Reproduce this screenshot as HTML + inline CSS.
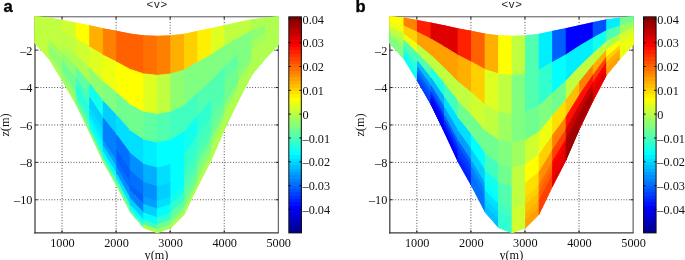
<!DOCTYPE html>
<html><head><meta charset="utf-8"><title>v</title>
<style>
html,body{margin:0;padding:0;background:#fff;}
body{width:685px;height:260px;overflow:hidden;}
svg{display:block;}
.tk{font-family:"Liberation Serif",serif;font-size:13px;fill:#111;}
.tt{font-family:"Liberation Sans",sans-serif;font-size:11.4px;fill:#222;letter-spacing:0.75px;}
.lt{font-family:"Liberation Sans",sans-serif;font-size:16.5px;font-weight:bold;fill:#000;stroke:#000;stroke-width:0.35px;}
</style></head><body>
<svg width="685" height="260" viewBox="0 0 685 260">
<rect width="685" height="260" fill="#fff"/>
<g stroke="#2a2a2a" stroke-width="0.9" stroke-dasharray="0.9 1.85" fill="none"><line x1="62.03" y1="16.60" x2="62.03" y2="232.90"/><line x1="116.10" y1="16.60" x2="116.10" y2="232.90"/><line x1="170.17" y1="16.60" x2="170.17" y2="232.90"/><line x1="224.24" y1="16.60" x2="224.24" y2="232.90"/><line x1="35.00" y1="50.16" x2="278.31" y2="50.16"/><line x1="35.00" y1="87.56" x2="278.31" y2="87.56"/><line x1="35.00" y1="124.96" x2="278.31" y2="124.96"/><line x1="35.00" y1="162.36" x2="278.31" y2="162.36"/><line x1="35.00" y1="199.76" x2="278.31" y2="199.76"/></g>
<g stroke="#1a1a1a" stroke-width="1"><line x1="62.03" y1="16.60" x2="62.03" y2="19.20"/><line x1="62.03" y1="232.90" x2="62.03" y2="230.30"/><line x1="116.10" y1="16.60" x2="116.10" y2="19.20"/><line x1="116.10" y1="232.90" x2="116.10" y2="230.30"/><line x1="170.17" y1="16.60" x2="170.17" y2="19.20"/><line x1="170.17" y1="232.90" x2="170.17" y2="230.30"/><line x1="224.24" y1="16.60" x2="224.24" y2="19.20"/><line x1="224.24" y1="232.90" x2="224.24" y2="230.30"/><line x1="35.00" y1="50.16" x2="37.60" y2="50.16"/><line x1="278.31" y1="50.16" x2="275.71" y2="50.16"/><line x1="35.00" y1="87.56" x2="37.60" y2="87.56"/><line x1="278.31" y1="87.56" x2="275.71" y2="87.56"/><line x1="35.00" y1="124.96" x2="37.60" y2="124.96"/><line x1="278.31" y1="124.96" x2="275.71" y2="124.96"/><line x1="35.00" y1="162.36" x2="37.60" y2="162.36"/><line x1="278.31" y1="162.36" x2="275.71" y2="162.36"/><line x1="35.00" y1="199.76" x2="37.60" y2="199.76"/><line x1="278.31" y1="199.76" x2="275.71" y2="199.76"/></g>
<line x1="35.00" y1="16.20" x2="35.00" y2="233.50" stroke="#444" stroke-width="1.3"/>
<line x1="34.20" y1="232.90" x2="278.81" y2="232.90" stroke="#3a3a3a" stroke-width="1.1"/>
<line x1="35.00" y1="16.80" x2="278.81" y2="16.80" stroke="#555" stroke-width="1"/>
<line x1="278.31" y1="16.60" x2="278.31" y2="232.90" stroke="#444" stroke-width="1"/>
<clipPath id="ca"><polygon points="34.40,15.91 49.22,17.62 62.73,19.94 76.25,22.41 89.77,25.30 103.28,28.36 116.80,30.85 130.32,33.57 143.84,35.16 157.35,35.69 170.87,35.16 184.39,33.76 197.90,30.85 211.42,28.12 224.94,24.88 238.45,21.96 251.97,19.26 265.49,17.56 279.01,16.07 279.01,44.55 265.49,58.95 251.97,75.22 238.45,101.21 224.94,129.26 211.42,160.49 197.90,186.67 184.39,214.72 170.87,228.18 157.35,233.23 143.84,228.18 130.32,212.85 116.80,186.67 103.28,162.73 89.77,133.38 76.25,105.51 62.73,81.76 49.22,59.51 34.40,43.05"/></clipPath>
<g clip-path="url(#ca)">
<polygon points="34.40,15.91 49.22,17.62 49.22,26.04 34.40,21.36" fill="#bfff40" stroke="#bfff40" stroke-width="1"/>
<polygon points="34.40,21.36 49.22,26.04 49.22,34.31 34.40,26.73" fill="#bfff40" stroke="#bfff40" stroke-width="1"/>
<polygon points="34.40,26.73 49.22,34.31 49.22,40.39 34.40,30.66" fill="#bfff40" stroke="#bfff40" stroke-width="1"/>
<polygon points="34.40,30.66 49.22,40.39 49.22,45.67 34.40,34.09" fill="#bfff40" stroke="#bfff40" stroke-width="1"/>
<polygon points="34.40,34.09 49.22,45.67 49.22,49.65 34.40,36.66" fill="#bfff40" stroke="#bfff40" stroke-width="1"/>
<polygon points="34.40,36.66 49.22,49.65 49.22,52.73 34.40,38.66" fill="#bfff40" stroke="#bfff40" stroke-width="1"/>
<polygon points="34.40,38.66 49.22,52.73 49.22,54.37 34.40,39.72" fill="#bfff40" stroke="#bfff40" stroke-width="1"/>
<polygon points="34.40,39.72 49.22,54.37 49.22,56.24 34.40,40.93" fill="#bfff40" stroke="#bfff40" stroke-width="1"/>
<polygon points="34.40,40.93 49.22,56.24 49.22,57.73 34.40,41.90" fill="#bfff40" stroke="#bfff40" stroke-width="1"/>
<polygon points="34.40,41.90 49.22,57.73 49.22,58.76 34.40,42.57" fill="#bfff40" stroke="#bfff40" stroke-width="1"/>
<polygon points="34.40,42.57 49.22,58.76 49.22,59.51 34.40,43.05" fill="#bfff40" stroke="#bfff40" stroke-width="1"/>
<polygon points="49.22,17.62 62.73,19.94 62.73,32.36 49.22,26.04" fill="#bfff40" stroke="#bfff40" stroke-width="1"/>
<polygon points="49.22,26.04 62.73,32.36 62.73,44.57 49.22,34.31" fill="#bfff40" stroke="#bfff40" stroke-width="1"/>
<polygon points="49.22,34.31 62.73,44.57 62.73,53.54 49.22,40.39" fill="#bfff40" stroke="#bfff40" stroke-width="1"/>
<polygon points="49.22,40.39 62.73,53.54 62.73,61.34 49.22,45.67" fill="#9fff60" stroke="#9fff60" stroke-width="1"/>
<polygon points="49.22,45.67 62.73,61.34 62.73,67.20 49.22,49.65" fill="#8fff70" stroke="#8fff70" stroke-width="1"/>
<polygon points="49.22,49.65 62.73,67.20 62.73,71.76 49.22,52.73" fill="#8fff70" stroke="#8fff70" stroke-width="1"/>
<polygon points="49.22,52.73 62.73,71.76 62.73,74.17 49.22,54.37" fill="#8fff70" stroke="#8fff70" stroke-width="1"/>
<polygon points="49.22,54.37 62.73,74.17 62.73,76.93 49.22,56.24" fill="#9fff60" stroke="#9fff60" stroke-width="1"/>
<polygon points="49.22,56.24 62.73,76.93 62.73,79.14 49.22,57.73" fill="#afff50" stroke="#afff50" stroke-width="1"/>
<polygon points="49.22,57.73 62.73,79.14 62.73,80.66 49.22,58.76" fill="#afff50" stroke="#afff50" stroke-width="1"/>
<polygon points="49.22,58.76 62.73,80.66 62.73,81.76 49.22,59.51" fill="#afff50" stroke="#afff50" stroke-width="1"/>
<polygon points="62.73,19.94 76.25,22.41 76.25,39.10 62.73,32.36" fill="#cfff30" stroke="#cfff30" stroke-width="1"/>
<polygon points="62.73,32.36 76.25,39.10 76.25,55.52 62.73,44.57" fill="#bfff40" stroke="#bfff40" stroke-width="1"/>
<polygon points="62.73,44.57 76.25,55.52 76.25,67.58 62.73,53.54" fill="#afff50" stroke="#afff50" stroke-width="1"/>
<polygon points="62.73,53.54 76.25,67.58 76.25,78.06 62.73,61.34" fill="#8fff70" stroke="#8fff70" stroke-width="1"/>
<polygon points="62.73,61.34 76.25,78.06 76.25,85.94 62.73,67.20" fill="#70ff8f" stroke="#70ff8f" stroke-width="1"/>
<polygon points="62.73,67.20 76.25,85.94 76.25,92.06 62.73,71.76" fill="#70ff8f" stroke="#70ff8f" stroke-width="1"/>
<polygon points="62.73,71.76 76.25,92.06 76.25,95.31 62.73,74.17" fill="#80ff80" stroke="#80ff80" stroke-width="1"/>
<polygon points="62.73,74.17 76.25,95.31 76.25,99.02 62.73,76.93" fill="#8fff70" stroke="#8fff70" stroke-width="1"/>
<polygon points="62.73,76.93 76.25,99.02 76.25,101.99 62.73,79.14" fill="#8fff70" stroke="#8fff70" stroke-width="1"/>
<polygon points="62.73,79.14 76.25,101.99 76.25,104.03 62.73,80.66" fill="#9fff60" stroke="#9fff60" stroke-width="1"/>
<polygon points="62.73,80.66 76.25,104.03 76.25,105.51 62.73,81.76" fill="#afff50" stroke="#afff50" stroke-width="1"/>
<polygon points="76.25,22.41 89.77,25.30 89.77,47.01 76.25,39.10" fill="#ffff00" stroke="#ffff00" stroke-width="1"/>
<polygon points="76.25,39.10 89.77,47.01 89.77,68.36 76.25,55.52" fill="#cfff30" stroke="#cfff30" stroke-width="1"/>
<polygon points="76.25,55.52 89.77,68.36 89.77,84.04 76.25,67.58" fill="#afff50" stroke="#afff50" stroke-width="1"/>
<polygon points="76.25,67.58 89.77,84.04 89.77,97.67 76.25,78.06" fill="#60ff9f" stroke="#60ff9f" stroke-width="1"/>
<polygon points="76.25,78.06 89.77,97.67 89.77,107.93 76.25,85.94" fill="#40ffbf" stroke="#40ffbf" stroke-width="1"/>
<polygon points="76.25,85.94 89.77,107.93 89.77,115.89 76.25,92.06" fill="#20ffdf" stroke="#20ffdf" stroke-width="1"/>
<polygon points="76.25,92.06 89.77,115.89 89.77,120.11 76.25,95.31" fill="#30ffcf" stroke="#30ffcf" stroke-width="1"/>
<polygon points="76.25,95.31 89.77,120.11 89.77,124.93 76.25,99.02" fill="#40ffbf" stroke="#40ffbf" stroke-width="1"/>
<polygon points="76.25,99.02 89.77,124.93 89.77,128.79 76.25,101.99" fill="#50ffaf" stroke="#50ffaf" stroke-width="1"/>
<polygon points="76.25,101.99 89.77,128.79 89.77,131.45 76.25,104.03" fill="#70ff8f" stroke="#70ff8f" stroke-width="1"/>
<polygon points="76.25,104.03 89.77,131.45 89.77,133.38 76.25,105.51" fill="#8fff70" stroke="#8fff70" stroke-width="1"/>
<polygon points="89.77,25.30 103.28,28.36 103.28,55.35 89.77,47.01" fill="#ffaf00" stroke="#ffaf00" stroke-width="1"/>
<polygon points="89.77,47.01 103.28,55.35 103.28,81.90 89.77,68.36" fill="#dfff20" stroke="#dfff20" stroke-width="1"/>
<polygon points="89.77,68.36 103.28,81.90 103.28,101.39 89.77,84.04" fill="#8fff70" stroke="#8fff70" stroke-width="1"/>
<polygon points="89.77,84.04 103.28,101.39 103.28,118.34 89.77,97.67" fill="#10ffef" stroke="#10ffef" stroke-width="1"/>
<polygon points="89.77,97.67 103.28,118.34 103.28,131.09 89.77,107.93" fill="#00cfff" stroke="#00cfff" stroke-width="1"/>
<polygon points="89.77,107.93 103.28,131.09 103.28,140.99 89.77,115.89" fill="#00dfff" stroke="#00dfff" stroke-width="1"/>
<polygon points="89.77,115.89 103.28,140.99 103.28,146.24 89.77,120.11" fill="#00efff" stroke="#00efff" stroke-width="1"/>
<polygon points="89.77,120.11 103.28,146.24 103.28,152.24 89.77,124.93" fill="#00ffff" stroke="#00ffff" stroke-width="1"/>
<polygon points="89.77,124.93 103.28,152.24 103.28,157.03 89.77,128.79" fill="#20ffdf" stroke="#20ffdf" stroke-width="1"/>
<polygon points="89.77,128.79 103.28,157.03 103.28,160.33 89.77,131.45" fill="#50ffaf" stroke="#50ffaf" stroke-width="1"/>
<polygon points="89.77,131.45 103.28,160.33 103.28,162.73 89.77,133.38" fill="#8fff70" stroke="#8fff70" stroke-width="1"/>
<polygon points="103.28,28.36 116.80,30.85 116.80,62.15 103.28,55.35" fill="#ff8000" stroke="#ff8000" stroke-width="1"/>
<polygon points="103.28,55.35 116.80,62.15 116.80,92.93 103.28,81.90" fill="#efff10" stroke="#efff10" stroke-width="1"/>
<polygon points="103.28,81.90 116.80,92.93 116.80,115.54 103.28,101.39" fill="#80ff80" stroke="#80ff80" stroke-width="1"/>
<polygon points="103.28,101.39 116.80,115.54 116.80,135.19 103.28,118.34" fill="#00cfff" stroke="#00cfff" stroke-width="1"/>
<polygon points="103.28,118.34 116.80,135.19 116.80,149.97 103.28,131.09" fill="#0080ff" stroke="#0080ff" stroke-width="1"/>
<polygon points="103.28,131.09 116.80,149.97 116.80,161.45 103.28,140.99" fill="#0080ff" stroke="#0080ff" stroke-width="1"/>
<polygon points="103.28,140.99 116.80,161.45 116.80,167.54 103.28,146.24" fill="#009fff" stroke="#009fff" stroke-width="1"/>
<polygon points="103.28,146.24 116.80,167.54 116.80,174.50 103.28,152.24" fill="#00cfff" stroke="#00cfff" stroke-width="1"/>
<polygon points="103.28,152.24 116.80,174.50 116.80,180.06 103.28,157.03" fill="#00ffff" stroke="#00ffff" stroke-width="1"/>
<polygon points="103.28,157.03 116.80,180.06 116.80,183.89 103.28,160.33" fill="#50ffaf" stroke="#50ffaf" stroke-width="1"/>
<polygon points="103.28,160.33 116.80,183.89 116.80,186.67 103.28,162.73" fill="#80ff80" stroke="#80ff80" stroke-width="1"/>
<polygon points="116.80,30.85 130.32,33.57 130.32,69.59 116.80,62.15" fill="#ff6000" stroke="#ff6000" stroke-width="1"/>
<polygon points="116.80,62.15 130.32,69.59 130.32,105.00 116.80,92.93" fill="#ffff00" stroke="#ffff00" stroke-width="1"/>
<polygon points="116.80,92.93 130.32,105.00 130.32,131.01 116.80,115.54" fill="#70ff8f" stroke="#70ff8f" stroke-width="1"/>
<polygon points="116.80,115.54 130.32,131.01 130.32,153.62 116.80,135.19" fill="#00dfff" stroke="#00dfff" stroke-width="1"/>
<polygon points="116.80,135.19 130.32,153.62 130.32,170.63 116.80,149.97" fill="#0070ff" stroke="#0070ff" stroke-width="1"/>
<polygon points="116.80,149.97 130.32,170.63 130.32,183.84 116.80,161.45" fill="#0060ff" stroke="#0060ff" stroke-width="1"/>
<polygon points="116.80,161.45 130.32,183.84 130.32,190.84 116.80,167.54" fill="#0070ff" stroke="#0070ff" stroke-width="1"/>
<polygon points="116.80,167.54 130.32,190.84 130.32,198.84 116.80,174.50" fill="#008fff" stroke="#008fff" stroke-width="1"/>
<polygon points="116.80,174.50 130.32,198.84 130.32,205.25 116.80,180.06" fill="#00dfff" stroke="#00dfff" stroke-width="1"/>
<polygon points="116.80,180.06 130.32,205.25 130.32,209.65 116.80,183.89" fill="#30ffcf" stroke="#30ffcf" stroke-width="1"/>
<polygon points="116.80,183.89 130.32,209.65 130.32,212.85 116.80,186.67" fill="#80ff80" stroke="#80ff80" stroke-width="1"/>
<polygon points="130.32,33.57 143.84,35.16 143.84,73.94 130.32,69.59" fill="#ff6000" stroke="#ff6000" stroke-width="1"/>
<polygon points="130.32,69.59 143.84,73.94 143.84,112.07 130.32,105.00" fill="#ffff00" stroke="#ffff00" stroke-width="1"/>
<polygon points="130.32,105.00 143.84,112.07 143.84,140.08 130.32,131.01" fill="#70ff8f" stroke="#70ff8f" stroke-width="1"/>
<polygon points="130.32,131.01 143.84,140.08 143.84,164.42 130.32,153.62" fill="#00dfff" stroke="#00dfff" stroke-width="1"/>
<polygon points="130.32,153.62 143.84,164.42 143.84,182.73 130.32,170.63" fill="#008fff" stroke="#008fff" stroke-width="1"/>
<polygon points="130.32,170.63 143.84,182.73 143.84,196.95 130.32,183.84" fill="#0070ff" stroke="#0070ff" stroke-width="1"/>
<polygon points="130.32,183.84 143.84,196.95 143.84,204.49 130.32,190.84" fill="#0060ff" stroke="#0060ff" stroke-width="1"/>
<polygon points="130.32,190.84 143.84,204.49 143.84,213.10 130.32,198.84" fill="#0080ff" stroke="#0080ff" stroke-width="1"/>
<polygon points="130.32,198.84 143.84,213.10 143.84,220.00 130.32,205.25" fill="#00cfff" stroke="#00cfff" stroke-width="1"/>
<polygon points="130.32,205.25 143.84,220.00 143.84,224.74 130.32,209.65" fill="#00ffff" stroke="#00ffff" stroke-width="1"/>
<polygon points="130.32,209.65 143.84,224.74 143.84,228.18 130.32,212.85" fill="#50ffaf" stroke="#50ffaf" stroke-width="1"/>
<polygon points="143.84,35.16 157.35,35.69 157.35,75.37 143.84,73.94" fill="#ff7000" stroke="#ff7000" stroke-width="1"/>
<polygon points="143.84,73.94 157.35,75.37 157.35,114.40 143.84,112.07" fill="#dfff20" stroke="#dfff20" stroke-width="1"/>
<polygon points="143.84,112.07 157.35,114.40 157.35,143.06 143.84,140.08" fill="#60ff9f" stroke="#60ff9f" stroke-width="1"/>
<polygon points="143.84,140.08 157.35,143.06 157.35,167.97 143.84,164.42" fill="#00efff" stroke="#00efff" stroke-width="1"/>
<polygon points="143.84,164.42 157.35,167.97 157.35,186.71 143.84,182.73" fill="#00afff" stroke="#00afff" stroke-width="1"/>
<polygon points="143.84,182.73 157.35,186.71 157.35,201.26 143.84,196.95" fill="#008fff" stroke="#008fff" stroke-width="1"/>
<polygon points="143.84,196.95 157.35,201.26 157.35,208.98 143.84,204.49" fill="#009fff" stroke="#009fff" stroke-width="1"/>
<polygon points="143.84,204.49 157.35,208.98 157.35,217.80 143.84,213.10" fill="#00cfff" stroke="#00cfff" stroke-width="1"/>
<polygon points="143.84,213.10 157.35,217.80 157.35,224.86 143.84,220.00" fill="#00ffff" stroke="#00ffff" stroke-width="1"/>
<polygon points="143.84,220.00 157.35,224.86 157.35,229.71 143.84,224.74" fill="#40ffbf" stroke="#40ffbf" stroke-width="1"/>
<polygon points="143.84,224.74 157.35,229.71 157.35,233.23 143.84,228.18" fill="#afff50" stroke="#afff50" stroke-width="1"/>
<polygon points="157.35,35.69 170.87,35.16 170.87,73.94 157.35,75.37" fill="#ff8000" stroke="#ff8000" stroke-width="1"/>
<polygon points="157.35,75.37 170.87,73.94 170.87,112.07 157.35,114.40" fill="#bfff40" stroke="#bfff40" stroke-width="1"/>
<polygon points="157.35,114.40 170.87,112.07 170.87,140.08 157.35,143.06" fill="#50ffaf" stroke="#50ffaf" stroke-width="1"/>
<polygon points="157.35,143.06 170.87,140.08 170.87,164.42 157.35,167.97" fill="#00ffff" stroke="#00ffff" stroke-width="1"/>
<polygon points="157.35,167.97 170.87,164.42 170.87,182.73 157.35,186.71" fill="#00dfff" stroke="#00dfff" stroke-width="1"/>
<polygon points="157.35,186.71 170.87,182.73 170.87,196.95 157.35,201.26" fill="#00cfff" stroke="#00cfff" stroke-width="1"/>
<polygon points="157.35,201.26 170.87,196.95 170.87,204.49 157.35,208.98" fill="#00dfff" stroke="#00dfff" stroke-width="1"/>
<polygon points="157.35,208.98 170.87,204.49 170.87,213.10 157.35,217.80" fill="#00ffff" stroke="#00ffff" stroke-width="1"/>
<polygon points="157.35,217.80 170.87,213.10 170.87,220.00 157.35,224.86" fill="#30ffcf" stroke="#30ffcf" stroke-width="1"/>
<polygon points="157.35,224.86 170.87,220.00 170.87,224.74 157.35,229.71" fill="#70ff8f" stroke="#70ff8f" stroke-width="1"/>
<polygon points="157.35,229.71 170.87,224.74 170.87,228.18 157.35,233.23" fill="#9fff60" stroke="#9fff60" stroke-width="1"/>
<polygon points="170.87,35.16 184.39,33.76 184.39,70.12 170.87,73.94" fill="#ffaf00" stroke="#ffaf00" stroke-width="1"/>
<polygon points="170.87,73.94 184.39,70.12 184.39,105.86 170.87,112.07" fill="#8fff70" stroke="#8fff70" stroke-width="1"/>
<polygon points="170.87,112.07 184.39,105.86 184.39,132.12 170.87,140.08" fill="#40ffbf" stroke="#40ffbf" stroke-width="1"/>
<polygon points="170.87,140.08 184.39,132.12 184.39,154.94 170.87,164.42" fill="#00ffff" stroke="#00ffff" stroke-width="1"/>
<polygon points="170.87,164.42 184.39,154.94 184.39,172.11 170.87,182.73" fill="#00ffff" stroke="#00ffff" stroke-width="1"/>
<polygon points="170.87,182.73 184.39,172.11 184.39,185.44 170.87,196.95" fill="#00ffff" stroke="#00ffff" stroke-width="1"/>
<polygon points="170.87,196.95 184.39,185.44 184.39,192.50 170.87,204.49" fill="#10ffef" stroke="#10ffef" stroke-width="1"/>
<polygon points="170.87,204.49 184.39,192.50 184.39,200.58 170.87,213.10" fill="#30ffcf" stroke="#30ffcf" stroke-width="1"/>
<polygon points="170.87,213.10 184.39,200.58 184.39,207.05 170.87,220.00" fill="#60ff9f" stroke="#60ff9f" stroke-width="1"/>
<polygon points="170.87,220.00 184.39,207.05 184.39,211.49 170.87,224.74" fill="#80ff80" stroke="#80ff80" stroke-width="1"/>
<polygon points="170.87,224.74 184.39,211.49 184.39,214.72 170.87,228.18" fill="#afff50" stroke="#afff50" stroke-width="1"/>
<polygon points="184.39,33.76 197.90,30.85 197.90,62.15 184.39,70.12" fill="#ffcf00" stroke="#ffcf00" stroke-width="1"/>
<polygon points="184.39,70.12 197.90,62.15 197.90,92.93 184.39,105.86" fill="#80ff80" stroke="#80ff80" stroke-width="1"/>
<polygon points="184.39,105.86 197.90,92.93 197.90,115.54 184.39,132.12" fill="#40ffbf" stroke="#40ffbf" stroke-width="1"/>
<polygon points="184.39,132.12 197.90,115.54 197.90,135.19 184.39,154.94" fill="#10ffef" stroke="#10ffef" stroke-width="1"/>
<polygon points="184.39,154.94 197.90,135.19 197.90,149.97 184.39,172.11" fill="#30ffcf" stroke="#30ffcf" stroke-width="1"/>
<polygon points="184.39,172.11 197.90,149.97 197.90,161.45 184.39,185.44" fill="#40ffbf" stroke="#40ffbf" stroke-width="1"/>
<polygon points="184.39,185.44 197.90,161.45 197.90,167.54 184.39,192.50" fill="#50ffaf" stroke="#50ffaf" stroke-width="1"/>
<polygon points="184.39,192.50 197.90,167.54 197.90,174.50 184.39,200.58" fill="#60ff9f" stroke="#60ff9f" stroke-width="1"/>
<polygon points="184.39,200.58 197.90,174.50 197.90,180.06 184.39,207.05" fill="#70ff8f" stroke="#70ff8f" stroke-width="1"/>
<polygon points="184.39,207.05 197.90,180.06 197.90,183.89 184.39,211.49" fill="#8fff70" stroke="#8fff70" stroke-width="1"/>
<polygon points="184.39,211.49 197.90,183.89 197.90,186.67 184.39,214.72" fill="#afff50" stroke="#afff50" stroke-width="1"/>
<polygon points="197.90,30.85 211.42,28.12 211.42,54.72 197.90,62.15" fill="#ffef00" stroke="#ffef00" stroke-width="1"/>
<polygon points="197.90,62.15 211.42,54.72 211.42,80.86 197.90,92.93" fill="#80ff80" stroke="#80ff80" stroke-width="1"/>
<polygon points="197.90,92.93 211.42,80.86 211.42,100.07 197.90,115.54" fill="#50ffaf" stroke="#50ffaf" stroke-width="1"/>
<polygon points="197.90,115.54 211.42,100.07 211.42,116.76 197.90,135.19" fill="#30ffcf" stroke="#30ffcf" stroke-width="1"/>
<polygon points="197.90,135.19 211.42,116.76 211.42,129.32 197.90,149.97" fill="#40ffbf" stroke="#40ffbf" stroke-width="1"/>
<polygon points="197.90,149.97 211.42,129.32 211.42,139.07 197.90,161.45" fill="#50ffaf" stroke="#50ffaf" stroke-width="1"/>
<polygon points="197.90,161.45 211.42,139.07 211.42,144.24 197.90,167.54" fill="#70ff8f" stroke="#70ff8f" stroke-width="1"/>
<polygon points="197.90,167.54 211.42,144.24 211.42,150.15 197.90,174.50" fill="#80ff80" stroke="#80ff80" stroke-width="1"/>
<polygon points="197.90,174.50 211.42,150.15 211.42,154.88 197.90,180.06" fill="#8fff70" stroke="#8fff70" stroke-width="1"/>
<polygon points="197.90,180.06 211.42,154.88 211.42,158.13 197.90,183.89" fill="#afff50" stroke="#afff50" stroke-width="1"/>
<polygon points="197.90,183.89 211.42,158.13 211.42,160.49 197.90,186.67" fill="#afff50" stroke="#afff50" stroke-width="1"/>
<polygon points="211.42,28.12 224.94,24.88 224.94,45.85 211.42,54.72" fill="#dfff20" stroke="#dfff20" stroke-width="1"/>
<polygon points="211.42,54.72 224.94,45.85 224.94,66.47 211.42,80.86" fill="#80ff80" stroke="#80ff80" stroke-width="1"/>
<polygon points="211.42,80.86 224.94,66.47 224.94,81.61 211.42,100.07" fill="#50ffaf" stroke="#50ffaf" stroke-width="1"/>
<polygon points="211.42,100.07 224.94,81.61 224.94,94.78 211.42,116.76" fill="#50ffaf" stroke="#50ffaf" stroke-width="1"/>
<polygon points="211.42,116.76 224.94,94.78 224.94,104.68 211.42,129.32" fill="#60ff9f" stroke="#60ff9f" stroke-width="1"/>
<polygon points="211.42,129.32 224.94,104.68 224.94,112.37 211.42,139.07" fill="#70ff8f" stroke="#70ff8f" stroke-width="1"/>
<polygon points="211.42,139.07 224.94,112.37 224.94,116.45 211.42,144.24" fill="#8fff70" stroke="#8fff70" stroke-width="1"/>
<polygon points="211.42,144.24 224.94,116.45 224.94,121.11 211.42,150.15" fill="#9fff60" stroke="#9fff60" stroke-width="1"/>
<polygon points="211.42,150.15 224.94,121.11 224.94,124.83 211.42,154.88" fill="#afff50" stroke="#afff50" stroke-width="1"/>
<polygon points="211.42,154.88 224.94,124.83 224.94,127.40 211.42,158.13" fill="#afff50" stroke="#afff50" stroke-width="1"/>
<polygon points="211.42,158.13 224.94,127.40 224.94,129.26 211.42,160.49" fill="#afff50" stroke="#afff50" stroke-width="1"/>
<polygon points="224.94,24.88 238.45,21.96 238.45,37.88 224.94,45.85" fill="#bfff40" stroke="#bfff40" stroke-width="1"/>
<polygon points="224.94,45.85 238.45,37.88 238.45,53.54 224.94,66.47" fill="#80ff80" stroke="#80ff80" stroke-width="1"/>
<polygon points="224.94,66.47 238.45,53.54 238.45,65.03 224.94,81.61" fill="#60ff9f" stroke="#60ff9f" stroke-width="1"/>
<polygon points="224.94,81.61 238.45,65.03 238.45,75.03 224.94,94.78" fill="#70ff8f" stroke="#70ff8f" stroke-width="1"/>
<polygon points="224.94,94.78 238.45,75.03 238.45,82.55 224.94,104.68" fill="#70ff8f" stroke="#70ff8f" stroke-width="1"/>
<polygon points="224.94,104.68 238.45,82.55 238.45,88.39 224.94,112.37" fill="#8fff70" stroke="#8fff70" stroke-width="1"/>
<polygon points="224.94,112.37 238.45,88.39 238.45,91.48 224.94,116.45" fill="#afff50" stroke="#afff50" stroke-width="1"/>
<polygon points="224.94,116.45 238.45,91.48 238.45,95.02 224.94,121.11" fill="#afff50" stroke="#afff50" stroke-width="1"/>
<polygon points="224.94,121.11 238.45,95.02 238.45,97.85 224.94,124.83" fill="#afff50" stroke="#afff50" stroke-width="1"/>
<polygon points="224.94,124.83 238.45,97.85 238.45,99.80 224.94,127.40" fill="#afff50" stroke="#afff50" stroke-width="1"/>
<polygon points="224.94,127.40 238.45,99.80 238.45,101.21 224.94,129.26" fill="#afff50" stroke="#afff50" stroke-width="1"/>
<polygon points="238.45,21.96 251.97,19.26 251.97,30.50 238.45,37.88" fill="#bfff40" stroke="#bfff40" stroke-width="1"/>
<polygon points="238.45,37.88 251.97,30.50 251.97,41.55 238.45,53.54" fill="#80ff80" stroke="#80ff80" stroke-width="1"/>
<polygon points="238.45,53.54 251.97,41.55 251.97,49.67 238.45,65.03" fill="#80ff80" stroke="#80ff80" stroke-width="1"/>
<polygon points="238.45,65.03 251.97,49.67 251.97,56.73 238.45,75.03" fill="#80ff80" stroke="#80ff80" stroke-width="1"/>
<polygon points="238.45,75.03 251.97,56.73 251.97,62.04 238.45,82.55" fill="#8fff70" stroke="#8fff70" stroke-width="1"/>
<polygon points="238.45,82.55 251.97,62.04 251.97,66.16 238.45,88.39" fill="#afff50" stroke="#afff50" stroke-width="1"/>
<polygon points="238.45,88.39 251.97,66.16 251.97,68.35 238.45,91.48" fill="#afff50" stroke="#afff50" stroke-width="1"/>
<polygon points="238.45,91.48 251.97,68.35 251.97,70.85 238.45,95.02" fill="#afff50" stroke="#afff50" stroke-width="1"/>
<polygon points="238.45,95.02 251.97,70.85 251.97,72.84 238.45,97.85" fill="#afff50" stroke="#afff50" stroke-width="1"/>
<polygon points="238.45,97.85 251.97,72.84 251.97,74.22 238.45,99.80" fill="#afff50" stroke="#afff50" stroke-width="1"/>
<polygon points="238.45,99.80 251.97,74.22 251.97,75.22 238.45,101.21" fill="#afff50" stroke="#afff50" stroke-width="1"/>
<polygon points="251.97,19.26 265.49,17.56 265.49,25.88 251.97,30.50" fill="#afff50" stroke="#afff50" stroke-width="1"/>
<polygon points="251.97,30.50 265.49,25.88 265.49,34.05 251.97,41.55" fill="#8fff70" stroke="#8fff70" stroke-width="1"/>
<polygon points="251.97,41.55 265.49,34.05 265.49,40.06 251.97,49.67" fill="#9fff60" stroke="#9fff60" stroke-width="1"/>
<polygon points="251.97,49.67 265.49,40.06 265.49,45.28 251.97,56.73" fill="#afff50" stroke="#afff50" stroke-width="1"/>
<polygon points="251.97,56.73 265.49,45.28 265.49,49.20 251.97,62.04" fill="#afff50" stroke="#afff50" stroke-width="1"/>
<polygon points="251.97,62.04 265.49,49.20 265.49,52.25 251.97,66.16" fill="#afff50" stroke="#afff50" stroke-width="1"/>
<polygon points="251.97,66.16 265.49,52.25 265.49,53.87 251.97,68.35" fill="#afff50" stroke="#afff50" stroke-width="1"/>
<polygon points="251.97,68.35 265.49,53.87 265.49,55.72 251.97,70.85" fill="#afff50" stroke="#afff50" stroke-width="1"/>
<polygon points="251.97,70.85 265.49,55.72 265.49,57.19 251.97,72.84" fill="#afff50" stroke="#afff50" stroke-width="1"/>
<polygon points="251.97,72.84 265.49,57.19 265.49,58.21 251.97,74.22" fill="#afff50" stroke="#afff50" stroke-width="1"/>
<polygon points="251.97,74.22 265.49,58.21 265.49,58.95 251.97,75.22" fill="#afff50" stroke="#afff50" stroke-width="1"/>
<polygon points="265.49,17.56 279.01,16.07 279.01,21.79 265.49,25.88" fill="#afff50" stroke="#afff50" stroke-width="1"/>
<polygon points="265.49,25.88 279.01,21.79 279.01,27.42 265.49,34.05" fill="#afff50" stroke="#afff50" stroke-width="1"/>
<polygon points="265.49,34.05 279.01,27.42 279.01,31.55 265.49,40.06" fill="#afff50" stroke="#afff50" stroke-width="1"/>
<polygon points="265.49,40.06 279.01,31.55 279.01,35.14 265.49,45.28" fill="#afff50" stroke="#afff50" stroke-width="1"/>
<polygon points="265.49,45.28 279.01,35.14 279.01,37.84 265.49,49.20" fill="#afff50" stroke="#afff50" stroke-width="1"/>
<polygon points="265.49,49.20 279.01,37.84 279.01,39.94 265.49,52.25" fill="#afff50" stroke="#afff50" stroke-width="1"/>
<polygon points="265.49,52.25 279.01,39.94 279.01,41.05 265.49,53.87" fill="#afff50" stroke="#afff50" stroke-width="1"/>
<polygon points="265.49,53.87 279.01,41.05 279.01,42.32 265.49,55.72" fill="#afff50" stroke="#afff50" stroke-width="1"/>
<polygon points="265.49,55.72 279.01,42.32 279.01,43.34 265.49,57.19" fill="#afff50" stroke="#afff50" stroke-width="1"/>
<polygon points="265.49,57.19 279.01,43.34 279.01,44.04 265.49,58.21" fill="#afff50" stroke="#afff50" stroke-width="1"/>
<polygon points="265.49,58.21 279.01,44.04 279.01,44.55 265.49,58.95" fill="#afff50" stroke="#afff50" stroke-width="1"/>
</g>
<g shape-rendering="crispEdges"><rect x="288.50" y="16.60" width="13.10" height="4.38" fill="#800000"/><rect x="288.50" y="19.98" width="13.10" height="4.38" fill="#8f0000"/><rect x="288.50" y="23.36" width="13.10" height="4.38" fill="#9f0000"/><rect x="288.50" y="26.74" width="13.10" height="4.38" fill="#af0000"/><rect x="288.50" y="30.12" width="13.10" height="4.38" fill="#bf0000"/><rect x="288.50" y="33.50" width="13.10" height="4.38" fill="#cf0000"/><rect x="288.50" y="36.88" width="13.10" height="4.38" fill="#df0000"/><rect x="288.50" y="40.26" width="13.10" height="4.38" fill="#ef0000"/><rect x="288.50" y="43.64" width="13.10" height="4.38" fill="#ff0000"/><rect x="288.50" y="47.02" width="13.10" height="4.38" fill="#ff1000"/><rect x="288.50" y="50.40" width="13.10" height="4.38" fill="#ff2000"/><rect x="288.50" y="53.78" width="13.10" height="4.38" fill="#ff3000"/><rect x="288.50" y="57.16" width="13.10" height="4.38" fill="#ff4000"/><rect x="288.50" y="60.54" width="13.10" height="4.38" fill="#ff5000"/><rect x="288.50" y="63.92" width="13.10" height="4.38" fill="#ff6000"/><rect x="288.50" y="67.30" width="13.10" height="4.38" fill="#ff7000"/><rect x="288.50" y="70.67" width="13.10" height="4.38" fill="#ff8000"/><rect x="288.50" y="74.05" width="13.10" height="4.38" fill="#ff8f00"/><rect x="288.50" y="77.43" width="13.10" height="4.38" fill="#ff9f00"/><rect x="288.50" y="80.81" width="13.10" height="4.38" fill="#ffaf00"/><rect x="288.50" y="84.19" width="13.10" height="4.38" fill="#ffbf00"/><rect x="288.50" y="87.57" width="13.10" height="4.38" fill="#ffcf00"/><rect x="288.50" y="90.95" width="13.10" height="4.38" fill="#ffdf00"/><rect x="288.50" y="94.33" width="13.10" height="4.38" fill="#ffef00"/><rect x="288.50" y="97.71" width="13.10" height="4.38" fill="#ffff00"/><rect x="288.50" y="101.09" width="13.10" height="4.38" fill="#efff10"/><rect x="288.50" y="104.47" width="13.10" height="4.38" fill="#dfff20"/><rect x="288.50" y="107.85" width="13.10" height="4.38" fill="#cfff30"/><rect x="288.50" y="111.23" width="13.10" height="4.38" fill="#bfff40"/><rect x="288.50" y="114.61" width="13.10" height="4.38" fill="#afff50"/><rect x="288.50" y="117.99" width="13.10" height="4.38" fill="#9fff60"/><rect x="288.50" y="121.37" width="13.10" height="4.38" fill="#8fff70"/><rect x="288.50" y="124.75" width="13.10" height="4.38" fill="#80ff80"/><rect x="288.50" y="128.13" width="13.10" height="4.38" fill="#70ff8f"/><rect x="288.50" y="131.51" width="13.10" height="4.38" fill="#60ff9f"/><rect x="288.50" y="134.89" width="13.10" height="4.38" fill="#50ffaf"/><rect x="288.50" y="138.27" width="13.10" height="4.38" fill="#40ffbf"/><rect x="288.50" y="141.65" width="13.10" height="4.38" fill="#30ffcf"/><rect x="288.50" y="145.03" width="13.10" height="4.38" fill="#20ffdf"/><rect x="288.50" y="148.41" width="13.10" height="4.38" fill="#10ffef"/><rect x="288.50" y="151.79" width="13.10" height="4.38" fill="#00ffff"/><rect x="288.50" y="155.17" width="13.10" height="4.38" fill="#00efff"/><rect x="288.50" y="158.55" width="13.10" height="4.38" fill="#00dfff"/><rect x="288.50" y="161.93" width="13.10" height="4.38" fill="#00cfff"/><rect x="288.50" y="165.31" width="13.10" height="4.38" fill="#00bfff"/><rect x="288.50" y="168.69" width="13.10" height="4.38" fill="#00afff"/><rect x="288.50" y="172.07" width="13.10" height="4.38" fill="#009fff"/><rect x="288.50" y="175.45" width="13.10" height="4.38" fill="#008fff"/><rect x="288.50" y="178.82" width="13.10" height="4.38" fill="#0080ff"/><rect x="288.50" y="182.20" width="13.10" height="4.38" fill="#0070ff"/><rect x="288.50" y="185.58" width="13.10" height="4.38" fill="#0060ff"/><rect x="288.50" y="188.96" width="13.10" height="4.38" fill="#0050ff"/><rect x="288.50" y="192.34" width="13.10" height="4.38" fill="#0040ff"/><rect x="288.50" y="195.72" width="13.10" height="4.38" fill="#0030ff"/><rect x="288.50" y="199.10" width="13.10" height="4.38" fill="#0020ff"/><rect x="288.50" y="202.48" width="13.10" height="4.38" fill="#0010ff"/><rect x="288.50" y="205.86" width="13.10" height="4.38" fill="#0000ff"/><rect x="288.50" y="209.24" width="13.10" height="4.38" fill="#0000ef"/><rect x="288.50" y="212.62" width="13.10" height="4.38" fill="#0000df"/><rect x="288.50" y="216.00" width="13.10" height="4.38" fill="#0000cf"/><rect x="288.50" y="219.38" width="13.10" height="4.38" fill="#0000bf"/><rect x="288.50" y="222.76" width="13.10" height="4.38" fill="#0000af"/><rect x="288.50" y="226.14" width="13.10" height="4.38" fill="#00009f"/><rect x="288.50" y="229.52" width="13.10" height="3.38" fill="#00008f"/></g>
<rect x="288.80" y="16.80" width="12.50" height="216.10" fill="none" stroke="#111" stroke-width="1"/>
<g stroke="#111" stroke-width="1"><line x1="288.50" y1="18.85" x2="290.80" y2="18.85"/><line x1="301.60" y1="18.85" x2="299.30" y2="18.85"/><line x1="288.50" y1="42.67" x2="290.80" y2="42.67"/><line x1="301.60" y1="42.67" x2="299.30" y2="42.67"/><line x1="288.50" y1="66.49" x2="290.80" y2="66.49"/><line x1="301.60" y1="66.49" x2="299.30" y2="66.49"/><line x1="288.50" y1="90.31" x2="290.80" y2="90.31"/><line x1="301.60" y1="90.31" x2="299.30" y2="90.31"/><line x1="288.50" y1="114.13" x2="290.80" y2="114.13"/><line x1="301.60" y1="114.13" x2="299.30" y2="114.13"/><line x1="288.50" y1="137.95" x2="290.80" y2="137.95"/><line x1="301.60" y1="137.95" x2="299.30" y2="137.95"/><line x1="288.50" y1="161.77" x2="290.80" y2="161.77"/><line x1="301.60" y1="161.77" x2="299.30" y2="161.77"/><line x1="288.50" y1="185.59" x2="290.80" y2="185.59"/><line x1="301.60" y1="185.59" x2="299.30" y2="185.59"/><line x1="288.50" y1="209.41" x2="290.80" y2="209.41"/><line x1="301.60" y1="209.41" x2="299.30" y2="209.41"/></g>
<g opacity="0.999"><text transform="translate(62.43,246.90) scale(0.945,1)" text-anchor="middle" class="tk">1000</text><text transform="translate(116.50,246.90) scale(0.945,1)" text-anchor="middle" class="tk">2000</text><text transform="translate(170.57,246.90) scale(0.945,1)" text-anchor="middle" class="tk">3000</text><text transform="translate(224.64,246.90) scale(0.945,1)" text-anchor="middle" class="tk">4000</text><text transform="translate(278.71,246.90) scale(0.945,1)" text-anchor="middle" class="tk">5000</text><text transform="translate(32.50,54.86) scale(0.945,1)" text-anchor="end" class="tk">–2</text><text transform="translate(32.50,92.26) scale(0.945,1)" text-anchor="end" class="tk">–4</text><text transform="translate(32.50,129.66) scale(0.945,1)" text-anchor="end" class="tk">–6</text><text transform="translate(32.50,167.06) scale(0.945,1)" text-anchor="end" class="tk">–8</text><text transform="translate(32.50,204.46) scale(0.945,1)" text-anchor="end" class="tk">–10</text><text transform="translate(156.50,258.60) scale(0.945,1)" text-anchor="middle" class="tk">y(m)</text><text transform="translate(9.40,125.00) rotate(-90) scale(0.945,1)" text-anchor="middle" class="tk">z(m)</text><text transform="translate(157.20,8.00) scale(1.000,1)" text-anchor="middle" class="tt">&lt;v&gt;</text><text transform="translate(3.50,12.00) scale(1.000,1)" text-anchor="start" class="lt">a</text><text transform="translate(302.50,23.55) scale(0.945,1)" text-anchor="start" class="tk">0.04</text><text transform="translate(302.50,47.37) scale(0.945,1)" text-anchor="start" class="tk">0.03</text><text transform="translate(302.50,71.19) scale(0.945,1)" text-anchor="start" class="tk">0.02</text><text transform="translate(302.50,95.01) scale(0.945,1)" text-anchor="start" class="tk">0.01</text><text transform="translate(302.50,118.83) scale(0.945,1)" text-anchor="start" class="tk">0</text><text transform="translate(302.50,142.65) scale(0.945,1)" text-anchor="start" class="tk">–0.01</text><text transform="translate(302.50,166.47) scale(0.945,1)" text-anchor="start" class="tk">–0.02</text><text transform="translate(302.50,190.29) scale(0.945,1)" text-anchor="start" class="tk">–0.03</text><text transform="translate(302.50,214.11) scale(0.945,1)" text-anchor="start" class="tk">–0.04</text></g>
<g stroke="#2a2a2a" stroke-width="0.9" stroke-dasharray="0.9 1.85" fill="none"><line x1="416.83" y1="16.60" x2="416.83" y2="232.90"/><line x1="470.90" y1="16.60" x2="470.90" y2="232.90"/><line x1="524.97" y1="16.60" x2="524.97" y2="232.90"/><line x1="579.04" y1="16.60" x2="579.04" y2="232.90"/><line x1="389.80" y1="50.16" x2="633.11" y2="50.16"/><line x1="389.80" y1="87.56" x2="633.11" y2="87.56"/><line x1="389.80" y1="124.96" x2="633.11" y2="124.96"/><line x1="389.80" y1="162.36" x2="633.11" y2="162.36"/><line x1="389.80" y1="199.76" x2="633.11" y2="199.76"/></g>
<g stroke="#1a1a1a" stroke-width="1"><line x1="416.83" y1="16.60" x2="416.83" y2="19.20"/><line x1="416.83" y1="232.90" x2="416.83" y2="230.30"/><line x1="470.90" y1="16.60" x2="470.90" y2="19.20"/><line x1="470.90" y1="232.90" x2="470.90" y2="230.30"/><line x1="524.97" y1="16.60" x2="524.97" y2="19.20"/><line x1="524.97" y1="232.90" x2="524.97" y2="230.30"/><line x1="579.04" y1="16.60" x2="579.04" y2="19.20"/><line x1="579.04" y1="232.90" x2="579.04" y2="230.30"/><line x1="389.80" y1="50.16" x2="392.40" y2="50.16"/><line x1="633.11" y1="50.16" x2="630.51" y2="50.16"/><line x1="389.80" y1="87.56" x2="392.40" y2="87.56"/><line x1="633.11" y1="87.56" x2="630.51" y2="87.56"/><line x1="389.80" y1="124.96" x2="392.40" y2="124.96"/><line x1="633.11" y1="124.96" x2="630.51" y2="124.96"/><line x1="389.80" y1="162.36" x2="392.40" y2="162.36"/><line x1="633.11" y1="162.36" x2="630.51" y2="162.36"/><line x1="389.80" y1="199.76" x2="392.40" y2="199.76"/><line x1="633.11" y1="199.76" x2="630.51" y2="199.76"/></g>
<line x1="389.80" y1="16.20" x2="389.80" y2="233.50" stroke="#444" stroke-width="1.3"/>
<line x1="389.00" y1="232.90" x2="633.61" y2="232.90" stroke="#3a3a3a" stroke-width="1.1"/>
<line x1="389.80" y1="16.80" x2="633.61" y2="16.80" stroke="#555" stroke-width="1"/>
<line x1="633.11" y1="16.60" x2="633.11" y2="232.90" stroke="#444" stroke-width="1"/>
<clipPath id="cb"><polygon points="389.20,15.91 404.02,17.62 417.53,19.94 431.05,22.41 444.57,25.30 458.08,28.36 471.60,30.85 485.12,33.57 498.64,35.16 512.15,35.69 525.67,35.16 539.19,33.76 552.70,30.85 566.22,28.12 579.74,24.88 593.25,21.96 606.77,19.26 620.29,17.56 633.81,16.07 633.81,44.55 620.29,58.95 606.77,75.22 593.25,101.21 579.74,129.26 566.22,160.49 552.70,186.67 539.19,214.72 525.67,228.18 512.15,233.23 498.64,228.18 485.12,212.85 471.60,186.67 458.08,162.73 444.57,133.38 431.05,105.51 417.53,81.76 404.02,59.51 389.20,43.05"/></clipPath>
<g clip-path="url(#cb)">
<polygon points="389.20,15.91 404.02,17.62 404.02,26.04 389.20,21.36" fill="#ffff00" stroke="#ffff00" stroke-width="1"/>
<polygon points="389.20,21.36 404.02,26.04 404.02,34.31 389.20,26.73" fill="#efff10" stroke="#efff10" stroke-width="1"/>
<polygon points="389.20,26.73 404.02,34.31 404.02,40.39 389.20,30.66" fill="#bfff40" stroke="#bfff40" stroke-width="1"/>
<polygon points="389.20,30.66 404.02,40.39 404.02,45.67 389.20,34.09" fill="#afff50" stroke="#afff50" stroke-width="1"/>
<polygon points="389.20,34.09 404.02,45.67 404.02,49.65 389.20,36.66" fill="#8fff70" stroke="#8fff70" stroke-width="1"/>
<polygon points="389.20,36.66 404.02,49.65 404.02,52.73 389.20,38.66" fill="#80ff80" stroke="#80ff80" stroke-width="1"/>
<polygon points="389.20,38.66 404.02,52.73 404.02,54.37 389.20,39.72" fill="#80ff80" stroke="#80ff80" stroke-width="1"/>
<polygon points="389.20,39.72 404.02,54.37 404.02,56.24 389.20,40.93" fill="#80ff80" stroke="#80ff80" stroke-width="1"/>
<polygon points="389.20,40.93 404.02,56.24 404.02,57.73 389.20,41.90" fill="#80ff80" stroke="#80ff80" stroke-width="1"/>
<polygon points="389.20,41.90 404.02,57.73 404.02,58.76 389.20,42.57" fill="#80ff80" stroke="#80ff80" stroke-width="1"/>
<polygon points="389.20,42.57 404.02,58.76 404.02,59.51 389.20,43.05" fill="#80ff80" stroke="#80ff80" stroke-width="1"/>
<polygon points="404.02,17.62 417.53,19.94 417.53,32.36 404.02,26.04" fill="#ff8000" stroke="#ff8000" stroke-width="1"/>
<polygon points="404.02,26.04 417.53,32.36 417.53,44.57 404.02,34.31" fill="#ffcf00" stroke="#ffcf00" stroke-width="1"/>
<polygon points="404.02,34.31 417.53,44.57 417.53,53.54 404.02,40.39" fill="#efff10" stroke="#efff10" stroke-width="1"/>
<polygon points="404.02,40.39 417.53,53.54 417.53,61.34 404.02,45.67" fill="#50ffaf" stroke="#50ffaf" stroke-width="1"/>
<polygon points="404.02,45.67 417.53,61.34 417.53,67.20 404.02,49.65" fill="#40ffbf" stroke="#40ffbf" stroke-width="1"/>
<polygon points="404.02,49.65 417.53,67.20 417.53,71.76 404.02,52.73" fill="#20ffdf" stroke="#20ffdf" stroke-width="1"/>
<polygon points="404.02,52.73 417.53,71.76 417.53,74.17 404.02,54.37" fill="#20ffdf" stroke="#20ffdf" stroke-width="1"/>
<polygon points="404.02,54.37 417.53,74.17 417.53,76.93 404.02,56.24" fill="#10ffef" stroke="#10ffef" stroke-width="1"/>
<polygon points="404.02,56.24 417.53,76.93 417.53,79.14 404.02,57.73" fill="#10ffef" stroke="#10ffef" stroke-width="1"/>
<polygon points="404.02,57.73 417.53,79.14 417.53,80.66 404.02,58.76" fill="#10ffef" stroke="#10ffef" stroke-width="1"/>
<polygon points="404.02,58.76 417.53,80.66 417.53,81.76 404.02,59.51" fill="#10ffef" stroke="#10ffef" stroke-width="1"/>
<polygon points="417.53,19.94 431.05,22.41 431.05,39.10 417.53,32.36" fill="#ff2000" stroke="#ff2000" stroke-width="1"/>
<polygon points="417.53,32.36 431.05,39.10 431.05,55.52 417.53,44.57" fill="#ff9f00" stroke="#ff9f00" stroke-width="1"/>
<polygon points="417.53,44.57 431.05,55.52 431.05,67.58 417.53,53.54" fill="#bfff40" stroke="#bfff40" stroke-width="1"/>
<polygon points="417.53,53.54 431.05,67.58 431.05,78.06 417.53,61.34" fill="#50ffaf" stroke="#50ffaf" stroke-width="1"/>
<polygon points="417.53,61.34 431.05,78.06 431.05,85.94 417.53,67.20" fill="#00bfff" stroke="#00bfff" stroke-width="1"/>
<polygon points="417.53,67.20 431.05,85.94 431.05,92.06 417.53,71.76" fill="#0080ff" stroke="#0080ff" stroke-width="1"/>
<polygon points="417.53,71.76 431.05,92.06 431.05,95.31 417.53,74.17" fill="#0060ff" stroke="#0060ff" stroke-width="1"/>
<polygon points="417.53,74.17 431.05,95.31 431.05,99.02 417.53,76.93" fill="#0050ff" stroke="#0050ff" stroke-width="1"/>
<polygon points="417.53,76.93 431.05,99.02 431.05,101.99 417.53,79.14" fill="#0040ff" stroke="#0040ff" stroke-width="1"/>
<polygon points="417.53,79.14 431.05,101.99 431.05,104.03 417.53,80.66" fill="#0040ff" stroke="#0040ff" stroke-width="1"/>
<polygon points="417.53,80.66 431.05,104.03 431.05,105.51 417.53,81.76" fill="#0040ff" stroke="#0040ff" stroke-width="1"/>
<polygon points="431.05,22.41 444.57,25.30 444.57,47.01 431.05,39.10" fill="#df0000" stroke="#df0000" stroke-width="1"/>
<polygon points="431.05,39.10 444.57,47.01 444.57,68.36 431.05,55.52" fill="#ff9f00" stroke="#ff9f00" stroke-width="1"/>
<polygon points="431.05,55.52 444.57,68.36 444.57,84.04 431.05,67.58" fill="#bfff40" stroke="#bfff40" stroke-width="1"/>
<polygon points="431.05,67.58 444.57,84.04 444.57,97.67 431.05,78.06" fill="#20ffdf" stroke="#20ffdf" stroke-width="1"/>
<polygon points="431.05,78.06 444.57,97.67 444.57,107.93 431.05,85.94" fill="#00afff" stroke="#00afff" stroke-width="1"/>
<polygon points="431.05,85.94 444.57,107.93 444.57,115.89 431.05,92.06" fill="#0060ff" stroke="#0060ff" stroke-width="1"/>
<polygon points="431.05,92.06 444.57,115.89 444.57,120.11 431.05,95.31" fill="#0030ff" stroke="#0030ff" stroke-width="1"/>
<polygon points="431.05,95.31 444.57,120.11 444.57,124.93 431.05,99.02" fill="#0010ff" stroke="#0010ff" stroke-width="1"/>
<polygon points="431.05,99.02 444.57,124.93 444.57,128.79 431.05,101.99" fill="#0000ff" stroke="#0000ff" stroke-width="1"/>
<polygon points="431.05,101.99 444.57,128.79 444.57,131.45 431.05,104.03" fill="#0000ef" stroke="#0000ef" stroke-width="1"/>
<polygon points="431.05,104.03 444.57,131.45 444.57,133.38 431.05,105.51" fill="#0000ef" stroke="#0000ef" stroke-width="1"/>
<polygon points="444.57,25.30 458.08,28.36 458.08,55.35 444.57,47.01" fill="#df0000" stroke="#df0000" stroke-width="1"/>
<polygon points="444.57,47.01 458.08,55.35 458.08,81.90 444.57,68.36" fill="#ff9f00" stroke="#ff9f00" stroke-width="1"/>
<polygon points="444.57,68.36 458.08,81.90 458.08,101.39 444.57,84.04" fill="#bfff40" stroke="#bfff40" stroke-width="1"/>
<polygon points="444.57,84.04 458.08,101.39 458.08,118.34 444.57,97.67" fill="#40ffbf" stroke="#40ffbf" stroke-width="1"/>
<polygon points="444.57,97.67 458.08,118.34 458.08,131.09 444.57,107.93" fill="#00dfff" stroke="#00dfff" stroke-width="1"/>
<polygon points="444.57,107.93 458.08,131.09 458.08,140.99 444.57,115.89" fill="#009fff" stroke="#009fff" stroke-width="1"/>
<polygon points="444.57,115.89 458.08,140.99 458.08,146.24 444.57,120.11" fill="#0060ff" stroke="#0060ff" stroke-width="1"/>
<polygon points="444.57,120.11 458.08,146.24 458.08,152.24 444.57,124.93" fill="#0030ff" stroke="#0030ff" stroke-width="1"/>
<polygon points="444.57,124.93 458.08,152.24 458.08,157.03 444.57,128.79" fill="#0010ff" stroke="#0010ff" stroke-width="1"/>
<polygon points="444.57,128.79 458.08,157.03 458.08,160.33 444.57,131.45" fill="#0000ff" stroke="#0000ff" stroke-width="1"/>
<polygon points="444.57,131.45 458.08,160.33 458.08,162.73 444.57,133.38" fill="#0000ef" stroke="#0000ef" stroke-width="1"/>
<polygon points="458.08,28.36 471.60,30.85 471.60,62.15 458.08,55.35" fill="#ff2000" stroke="#ff2000" stroke-width="1"/>
<polygon points="458.08,55.35 471.60,62.15 471.60,92.93 458.08,81.90" fill="#ffaf00" stroke="#ffaf00" stroke-width="1"/>
<polygon points="458.08,81.90 471.60,92.93 471.60,115.54 458.08,101.39" fill="#bfff40" stroke="#bfff40" stroke-width="1"/>
<polygon points="458.08,101.39 471.60,115.54 471.60,135.19 458.08,118.34" fill="#70ff8f" stroke="#70ff8f" stroke-width="1"/>
<polygon points="458.08,118.34 471.60,135.19 471.60,149.97 458.08,131.09" fill="#00dfff" stroke="#00dfff" stroke-width="1"/>
<polygon points="458.08,131.09 471.60,149.97 471.60,161.45 458.08,140.99" fill="#009fff" stroke="#009fff" stroke-width="1"/>
<polygon points="458.08,140.99 471.60,161.45 471.60,167.54 458.08,146.24" fill="#0060ff" stroke="#0060ff" stroke-width="1"/>
<polygon points="458.08,146.24 471.60,167.54 471.60,174.50 458.08,152.24" fill="#0040ff" stroke="#0040ff" stroke-width="1"/>
<polygon points="458.08,152.24 471.60,174.50 471.60,180.06 458.08,157.03" fill="#0030ff" stroke="#0030ff" stroke-width="1"/>
<polygon points="458.08,157.03 471.60,180.06 471.60,183.89 458.08,160.33" fill="#0020ff" stroke="#0020ff" stroke-width="1"/>
<polygon points="458.08,160.33 471.60,183.89 471.60,186.67 458.08,162.73" fill="#0020ff" stroke="#0020ff" stroke-width="1"/>
<polygon points="471.60,30.85 485.12,33.57 485.12,69.59 471.60,62.15" fill="#ff6000" stroke="#ff6000" stroke-width="1"/>
<polygon points="471.60,62.15 485.12,69.59 485.12,105.00 471.60,92.93" fill="#ffcf00" stroke="#ffcf00" stroke-width="1"/>
<polygon points="471.60,92.93 485.12,105.00 485.12,131.01 471.60,115.54" fill="#cfff30" stroke="#cfff30" stroke-width="1"/>
<polygon points="471.60,115.54 485.12,131.01 485.12,153.62 471.60,135.19" fill="#70ff8f" stroke="#70ff8f" stroke-width="1"/>
<polygon points="471.60,135.19 485.12,153.62 485.12,170.63 471.60,149.97" fill="#00ffff" stroke="#00ffff" stroke-width="1"/>
<polygon points="471.60,149.97 485.12,170.63 485.12,183.84 471.60,161.45" fill="#00cfff" stroke="#00cfff" stroke-width="1"/>
<polygon points="471.60,161.45 485.12,183.84 485.12,190.84 471.60,167.54" fill="#009fff" stroke="#009fff" stroke-width="1"/>
<polygon points="471.60,167.54 485.12,190.84 485.12,198.84 471.60,174.50" fill="#0080ff" stroke="#0080ff" stroke-width="1"/>
<polygon points="471.60,174.50 485.12,198.84 485.12,205.25 471.60,180.06" fill="#0070ff" stroke="#0070ff" stroke-width="1"/>
<polygon points="471.60,180.06 485.12,205.25 485.12,209.65 471.60,183.89" fill="#0070ff" stroke="#0070ff" stroke-width="1"/>
<polygon points="471.60,183.89 485.12,209.65 485.12,212.85 471.60,186.67" fill="#0070ff" stroke="#0070ff" stroke-width="1"/>
<polygon points="485.12,33.57 498.64,35.16 498.64,73.94 485.12,69.59" fill="#ffaf00" stroke="#ffaf00" stroke-width="1"/>
<polygon points="485.12,69.59 498.64,73.94 498.64,112.07 485.12,105.00" fill="#dfff20" stroke="#dfff20" stroke-width="1"/>
<polygon points="485.12,105.00 498.64,112.07 498.64,140.08 485.12,131.01" fill="#bfff40" stroke="#bfff40" stroke-width="1"/>
<polygon points="485.12,131.01 498.64,140.08 498.64,164.42 485.12,153.62" fill="#70ff8f" stroke="#70ff8f" stroke-width="1"/>
<polygon points="485.12,153.62 498.64,164.42 498.64,182.73 485.12,170.63" fill="#40ffbf" stroke="#40ffbf" stroke-width="1"/>
<polygon points="485.12,170.63 498.64,182.73 498.64,196.95 485.12,183.84" fill="#10ffef" stroke="#10ffef" stroke-width="1"/>
<polygon points="485.12,183.84 498.64,196.95 498.64,204.49 485.12,190.84" fill="#00ffff" stroke="#00ffff" stroke-width="1"/>
<polygon points="485.12,190.84 498.64,204.49 498.64,213.10 485.12,198.84" fill="#00dfff" stroke="#00dfff" stroke-width="1"/>
<polygon points="485.12,198.84 498.64,213.10 498.64,220.00 485.12,205.25" fill="#00cfff" stroke="#00cfff" stroke-width="1"/>
<polygon points="485.12,205.25 498.64,220.00 498.64,224.74 485.12,209.65" fill="#00bfff" stroke="#00bfff" stroke-width="1"/>
<polygon points="485.12,209.65 498.64,224.74 498.64,228.18 485.12,212.85" fill="#00bfff" stroke="#00bfff" stroke-width="1"/>
<polygon points="498.64,35.16 512.15,35.69 512.15,75.37 498.64,73.94" fill="#ffff00" stroke="#ffff00" stroke-width="1"/>
<polygon points="498.64,73.94 512.15,75.37 512.15,114.40 498.64,112.07" fill="#bfff40" stroke="#bfff40" stroke-width="1"/>
<polygon points="498.64,112.07 512.15,114.40 512.15,143.06 498.64,140.08" fill="#9fff60" stroke="#9fff60" stroke-width="1"/>
<polygon points="498.64,140.08 512.15,143.06 512.15,167.97 498.64,164.42" fill="#80ff80" stroke="#80ff80" stroke-width="1"/>
<polygon points="498.64,164.42 512.15,167.97 512.15,186.71 498.64,182.73" fill="#70ff8f" stroke="#70ff8f" stroke-width="1"/>
<polygon points="498.64,182.73 512.15,186.71 512.15,201.26 498.64,196.95" fill="#50ffaf" stroke="#50ffaf" stroke-width="1"/>
<polygon points="498.64,196.95 512.15,201.26 512.15,208.98 498.64,204.49" fill="#50ffaf" stroke="#50ffaf" stroke-width="1"/>
<polygon points="498.64,204.49 512.15,208.98 512.15,217.80 498.64,213.10" fill="#40ffbf" stroke="#40ffbf" stroke-width="1"/>
<polygon points="498.64,213.10 512.15,217.80 512.15,224.86 498.64,220.00" fill="#30ffcf" stroke="#30ffcf" stroke-width="1"/>
<polygon points="498.64,220.00 512.15,224.86 512.15,229.71 498.64,224.74" fill="#30ffcf" stroke="#30ffcf" stroke-width="1"/>
<polygon points="498.64,224.74 512.15,229.71 512.15,233.23 498.64,228.18" fill="#30ffcf" stroke="#30ffcf" stroke-width="1"/>
<polygon points="512.15,35.69 525.67,35.16 525.67,73.94 512.15,75.37" fill="#bfff40" stroke="#bfff40" stroke-width="1"/>
<polygon points="512.15,75.37 525.67,73.94 525.67,112.07 512.15,114.40" fill="#80ff80" stroke="#80ff80" stroke-width="1"/>
<polygon points="512.15,114.40 525.67,112.07 525.67,140.08 512.15,143.06" fill="#80ff80" stroke="#80ff80" stroke-width="1"/>
<polygon points="512.15,143.06 525.67,140.08 525.67,164.42 512.15,167.97" fill="#9fff60" stroke="#9fff60" stroke-width="1"/>
<polygon points="512.15,167.97 525.67,164.42 525.67,182.73 512.15,186.71" fill="#bfff40" stroke="#bfff40" stroke-width="1"/>
<polygon points="512.15,186.71 525.67,182.73 525.67,196.95 512.15,201.26" fill="#bfff40" stroke="#bfff40" stroke-width="1"/>
<polygon points="512.15,201.26 525.67,196.95 525.67,204.49 512.15,208.98" fill="#bfff40" stroke="#bfff40" stroke-width="1"/>
<polygon points="512.15,208.98 525.67,204.49 525.67,213.10 512.15,217.80" fill="#cfff30" stroke="#cfff30" stroke-width="1"/>
<polygon points="512.15,217.80 525.67,213.10 525.67,220.00 512.15,224.86" fill="#cfff30" stroke="#cfff30" stroke-width="1"/>
<polygon points="512.15,224.86 525.67,220.00 525.67,224.74 512.15,229.71" fill="#cfff30" stroke="#cfff30" stroke-width="1"/>
<polygon points="512.15,229.71 525.67,224.74 525.67,228.18 512.15,233.23" fill="#cfff30" stroke="#cfff30" stroke-width="1"/>
<polygon points="525.67,35.16 539.19,33.76 539.19,70.12 525.67,73.94" fill="#50ffaf" stroke="#50ffaf" stroke-width="1"/>
<polygon points="525.67,73.94 539.19,70.12 539.19,105.86 525.67,112.07" fill="#50ffaf" stroke="#50ffaf" stroke-width="1"/>
<polygon points="525.67,112.07 539.19,105.86 539.19,132.12 525.67,140.08" fill="#70ff8f" stroke="#70ff8f" stroke-width="1"/>
<polygon points="525.67,140.08 539.19,132.12 539.19,154.94 525.67,164.42" fill="#cfff30" stroke="#cfff30" stroke-width="1"/>
<polygon points="525.67,164.42 539.19,154.94 539.19,172.11 525.67,182.73" fill="#ffff00" stroke="#ffff00" stroke-width="1"/>
<polygon points="525.67,182.73 539.19,172.11 539.19,185.44 525.67,196.95" fill="#ffdf00" stroke="#ffdf00" stroke-width="1"/>
<polygon points="525.67,196.95 539.19,185.44 539.19,192.50 525.67,204.49" fill="#ffcf00" stroke="#ffcf00" stroke-width="1"/>
<polygon points="525.67,204.49 539.19,192.50 539.19,200.58 525.67,213.10" fill="#ffbf00" stroke="#ffbf00" stroke-width="1"/>
<polygon points="525.67,213.10 539.19,200.58 539.19,207.05 525.67,220.00" fill="#ffaf00" stroke="#ffaf00" stroke-width="1"/>
<polygon points="525.67,220.00 539.19,207.05 539.19,211.49 525.67,224.74" fill="#ff9f00" stroke="#ff9f00" stroke-width="1"/>
<polygon points="525.67,224.74 539.19,211.49 539.19,214.72 525.67,228.18" fill="#ff9f00" stroke="#ff9f00" stroke-width="1"/>
<polygon points="539.19,33.76 552.70,30.85 552.70,62.15 539.19,70.12" fill="#00efff" stroke="#00efff" stroke-width="1"/>
<polygon points="539.19,70.12 552.70,62.15 552.70,92.93 539.19,105.86" fill="#30ffcf" stroke="#30ffcf" stroke-width="1"/>
<polygon points="539.19,105.86 552.70,92.93 552.70,115.54 539.19,132.12" fill="#80ff80" stroke="#80ff80" stroke-width="1"/>
<polygon points="539.19,132.12 552.70,115.54 552.70,135.19 539.19,154.94" fill="#efff10" stroke="#efff10" stroke-width="1"/>
<polygon points="539.19,154.94 552.70,135.19 552.70,149.97 539.19,172.11" fill="#ffcf00" stroke="#ffcf00" stroke-width="1"/>
<polygon points="539.19,172.11 552.70,149.97 552.70,161.45 539.19,185.44" fill="#ff8f00" stroke="#ff8f00" stroke-width="1"/>
<polygon points="539.19,185.44 552.70,161.45 552.70,167.54 539.19,192.50" fill="#ff7000" stroke="#ff7000" stroke-width="1"/>
<polygon points="539.19,192.50 552.70,167.54 552.70,174.50 539.19,200.58" fill="#ff6000" stroke="#ff6000" stroke-width="1"/>
<polygon points="539.19,200.58 552.70,174.50 552.70,180.06 539.19,207.05" fill="#ff4000" stroke="#ff4000" stroke-width="1"/>
<polygon points="539.19,207.05 552.70,180.06 552.70,183.89 539.19,211.49" fill="#ff4000" stroke="#ff4000" stroke-width="1"/>
<polygon points="539.19,211.49 552.70,183.89 552.70,186.67 539.19,214.72" fill="#ff4000" stroke="#ff4000" stroke-width="1"/>
<polygon points="552.70,30.85 566.22,28.12 566.22,54.72 552.70,62.15" fill="#0060ff" stroke="#0060ff" stroke-width="1"/>
<polygon points="552.70,62.15 566.22,54.72 566.22,80.86 552.70,92.93" fill="#00ffff" stroke="#00ffff" stroke-width="1"/>
<polygon points="552.70,92.93 566.22,80.86 566.22,100.07 552.70,115.54" fill="#70ff8f" stroke="#70ff8f" stroke-width="1"/>
<polygon points="552.70,115.54 566.22,100.07 566.22,116.76 552.70,135.19" fill="#ffdf00" stroke="#ffdf00" stroke-width="1"/>
<polygon points="552.70,135.19 566.22,116.76 566.22,129.32 552.70,149.97" fill="#ff8000" stroke="#ff8000" stroke-width="1"/>
<polygon points="552.70,149.97 566.22,129.32 566.22,139.07 552.70,161.45" fill="#ff4000" stroke="#ff4000" stroke-width="1"/>
<polygon points="552.70,161.45 566.22,139.07 566.22,144.24 552.70,167.54" fill="#ff0000" stroke="#ff0000" stroke-width="1"/>
<polygon points="552.70,167.54 566.22,144.24 566.22,150.15 552.70,174.50" fill="#ef0000" stroke="#ef0000" stroke-width="1"/>
<polygon points="552.70,174.50 566.22,150.15 566.22,154.88 552.70,180.06" fill="#ef0000" stroke="#ef0000" stroke-width="1"/>
<polygon points="552.70,180.06 566.22,154.88 566.22,158.13 552.70,183.89" fill="#df0000" stroke="#df0000" stroke-width="1"/>
<polygon points="552.70,183.89 566.22,158.13 566.22,160.49 552.70,186.67" fill="#df0000" stroke="#df0000" stroke-width="1"/>
<polygon points="566.22,28.12 579.74,24.88 579.74,45.85 566.22,54.72" fill="#0000ff" stroke="#0000ff" stroke-width="1"/>
<polygon points="566.22,54.72 579.74,45.85 579.74,66.47 566.22,80.86" fill="#00efff" stroke="#00efff" stroke-width="1"/>
<polygon points="566.22,80.86 579.74,66.47 579.74,81.61 566.22,100.07" fill="#bfff40" stroke="#bfff40" stroke-width="1"/>
<polygon points="566.22,100.07 579.74,81.61 579.74,94.78 566.22,116.76" fill="#ffbf00" stroke="#ffbf00" stroke-width="1"/>
<polygon points="566.22,116.76 579.74,94.78 579.74,104.68 566.22,129.32" fill="#ff1000" stroke="#ff1000" stroke-width="1"/>
<polygon points="566.22,129.32 579.74,104.68 579.74,112.37 566.22,139.07" fill="#cf0000" stroke="#cf0000" stroke-width="1"/>
<polygon points="566.22,139.07 579.74,112.37 579.74,116.45 566.22,144.24" fill="#af0000" stroke="#af0000" stroke-width="1"/>
<polygon points="566.22,144.24 579.74,116.45 579.74,121.11 566.22,150.15" fill="#9f0000" stroke="#9f0000" stroke-width="1"/>
<polygon points="566.22,150.15 579.74,121.11 579.74,124.83 566.22,154.88" fill="#9f0000" stroke="#9f0000" stroke-width="1"/>
<polygon points="566.22,154.88 579.74,124.83 579.74,127.40 566.22,158.13" fill="#9f0000" stroke="#9f0000" stroke-width="1"/>
<polygon points="566.22,158.13 579.74,127.40 579.74,129.26 566.22,160.49" fill="#9f0000" stroke="#9f0000" stroke-width="1"/>
<polygon points="579.74,24.88 593.25,21.96 593.25,37.88 579.74,45.85" fill="#0000ff" stroke="#0000ff" stroke-width="1"/>
<polygon points="579.74,45.85 593.25,37.88 593.25,53.54 579.74,66.47" fill="#00efff" stroke="#00efff" stroke-width="1"/>
<polygon points="579.74,66.47 593.25,53.54 593.25,65.03 579.74,81.61" fill="#bfff40" stroke="#bfff40" stroke-width="1"/>
<polygon points="579.74,81.61 593.25,65.03 593.25,75.03 579.74,94.78" fill="#ff8000" stroke="#ff8000" stroke-width="1"/>
<polygon points="579.74,94.78 593.25,75.03 593.25,82.55 579.74,104.68" fill="#ff1000" stroke="#ff1000" stroke-width="1"/>
<polygon points="579.74,104.68 593.25,82.55 593.25,88.39 579.74,112.37" fill="#cf0000" stroke="#cf0000" stroke-width="1"/>
<polygon points="579.74,112.37 593.25,88.39 593.25,91.48 579.74,116.45" fill="#af0000" stroke="#af0000" stroke-width="1"/>
<polygon points="579.74,116.45 593.25,91.48 593.25,95.02 579.74,121.11" fill="#9f0000" stroke="#9f0000" stroke-width="1"/>
<polygon points="579.74,121.11 593.25,95.02 593.25,97.85 579.74,124.83" fill="#9f0000" stroke="#9f0000" stroke-width="1"/>
<polygon points="579.74,124.83 593.25,97.85 593.25,99.80 579.74,127.40" fill="#9f0000" stroke="#9f0000" stroke-width="1"/>
<polygon points="579.74,127.40 593.25,99.80 593.25,101.21 579.74,129.26" fill="#cf0000" stroke="#cf0000" stroke-width="1"/>
<polygon points="593.25,21.96 606.77,19.26 606.77,30.50 593.25,37.88" fill="#0050ff" stroke="#0050ff" stroke-width="1"/>
<polygon points="593.25,37.88 606.77,30.50 606.77,41.55 593.25,53.54" fill="#10ffef" stroke="#10ffef" stroke-width="1"/>
<polygon points="593.25,53.54 606.77,41.55 606.77,49.67 593.25,65.03" fill="#bfff40" stroke="#bfff40" stroke-width="1"/>
<polygon points="593.25,65.03 606.77,49.67 606.77,56.73 593.25,75.03" fill="#ffaf00" stroke="#ffaf00" stroke-width="1"/>
<polygon points="593.25,75.03 606.77,56.73 606.77,62.04 593.25,82.55" fill="#ff4000" stroke="#ff4000" stroke-width="1"/>
<polygon points="593.25,82.55 606.77,62.04 606.77,66.16 593.25,88.39" fill="#ff0000" stroke="#ff0000" stroke-width="1"/>
<polygon points="593.25,88.39 606.77,66.16 606.77,68.35 593.25,91.48" fill="#ef0000" stroke="#ef0000" stroke-width="1"/>
<polygon points="593.25,91.48 606.77,68.35 606.77,70.85 593.25,95.02" fill="#df0000" stroke="#df0000" stroke-width="1"/>
<polygon points="593.25,95.02 606.77,70.85 606.77,72.84 593.25,97.85" fill="#df0000" stroke="#df0000" stroke-width="1"/>
<polygon points="593.25,97.85 606.77,72.84 606.77,74.22 593.25,99.80" fill="#df0000" stroke="#df0000" stroke-width="1"/>
<polygon points="593.25,99.80 606.77,74.22 606.77,75.22 593.25,101.21" fill="#ff0000" stroke="#ff0000" stroke-width="1"/>
<polygon points="606.77,19.26 620.29,17.56 620.29,25.88 606.77,30.50" fill="#00efff" stroke="#00efff" stroke-width="1"/>
<polygon points="606.77,30.50 620.29,25.88 620.29,34.05 606.77,41.55" fill="#50ffaf" stroke="#50ffaf" stroke-width="1"/>
<polygon points="606.77,41.55 620.29,34.05 620.29,40.06 606.77,49.67" fill="#afff50" stroke="#afff50" stroke-width="1"/>
<polygon points="606.77,49.67 620.29,40.06 620.29,45.28 606.77,56.73" fill="#ffff00" stroke="#ffff00" stroke-width="1"/>
<polygon points="606.77,56.73 620.29,45.28 620.29,49.20 606.77,62.04" fill="#ffcf00" stroke="#ffcf00" stroke-width="1"/>
<polygon points="606.77,62.04 620.29,49.20 620.29,52.25 606.77,66.16" fill="#ffaf00" stroke="#ffaf00" stroke-width="1"/>
<polygon points="606.77,66.16 620.29,52.25 620.29,53.87 606.77,68.35" fill="#ffaf00" stroke="#ffaf00" stroke-width="1"/>
<polygon points="606.77,68.35 620.29,53.87 620.29,55.72 606.77,70.85" fill="#ff9f00" stroke="#ff9f00" stroke-width="1"/>
<polygon points="606.77,70.85 620.29,55.72 620.29,57.19 606.77,72.84" fill="#ff9f00" stroke="#ff9f00" stroke-width="1"/>
<polygon points="606.77,72.84 620.29,57.19 620.29,58.21 606.77,74.22" fill="#ff9f00" stroke="#ff9f00" stroke-width="1"/>
<polygon points="606.77,74.22 620.29,58.21 620.29,58.95 606.77,75.22" fill="#ff9f00" stroke="#ff9f00" stroke-width="1"/>
<polygon points="620.29,17.56 633.81,16.07 633.81,21.79 620.29,25.88" fill="#70ff8f" stroke="#70ff8f" stroke-width="1"/>
<polygon points="620.29,25.88 633.81,21.79 633.81,27.42 620.29,34.05" fill="#9fff60" stroke="#9fff60" stroke-width="1"/>
<polygon points="620.29,34.05 633.81,27.42 633.81,31.55 620.29,40.06" fill="#cfff30" stroke="#cfff30" stroke-width="1"/>
<polygon points="620.29,40.06 633.81,31.55 633.81,35.14 620.29,45.28" fill="#dfff20" stroke="#dfff20" stroke-width="1"/>
<polygon points="620.29,45.28 633.81,35.14 633.81,37.84 620.29,49.20" fill="#efff10" stroke="#efff10" stroke-width="1"/>
<polygon points="620.29,49.20 633.81,37.84 633.81,39.94 620.29,52.25" fill="#efff10" stroke="#efff10" stroke-width="1"/>
<polygon points="620.29,52.25 633.81,39.94 633.81,41.05 620.29,53.87" fill="#efff10" stroke="#efff10" stroke-width="1"/>
<polygon points="620.29,53.87 633.81,41.05 633.81,42.32 620.29,55.72" fill="#efff10" stroke="#efff10" stroke-width="1"/>
<polygon points="620.29,55.72 633.81,42.32 633.81,43.34 620.29,57.19" fill="#efff10" stroke="#efff10" stroke-width="1"/>
<polygon points="620.29,57.19 633.81,43.34 633.81,44.04 620.29,58.21" fill="#efff10" stroke="#efff10" stroke-width="1"/>
<polygon points="620.29,58.21 633.81,44.04 633.81,44.55 620.29,58.95" fill="#efff10" stroke="#efff10" stroke-width="1"/>
</g>
<g shape-rendering="crispEdges"><rect x="643.30" y="16.60" width="13.10" height="4.38" fill="#800000"/><rect x="643.30" y="19.98" width="13.10" height="4.38" fill="#8f0000"/><rect x="643.30" y="23.36" width="13.10" height="4.38" fill="#9f0000"/><rect x="643.30" y="26.74" width="13.10" height="4.38" fill="#af0000"/><rect x="643.30" y="30.12" width="13.10" height="4.38" fill="#bf0000"/><rect x="643.30" y="33.50" width="13.10" height="4.38" fill="#cf0000"/><rect x="643.30" y="36.88" width="13.10" height="4.38" fill="#df0000"/><rect x="643.30" y="40.26" width="13.10" height="4.38" fill="#ef0000"/><rect x="643.30" y="43.64" width="13.10" height="4.38" fill="#ff0000"/><rect x="643.30" y="47.02" width="13.10" height="4.38" fill="#ff1000"/><rect x="643.30" y="50.40" width="13.10" height="4.38" fill="#ff2000"/><rect x="643.30" y="53.78" width="13.10" height="4.38" fill="#ff3000"/><rect x="643.30" y="57.16" width="13.10" height="4.38" fill="#ff4000"/><rect x="643.30" y="60.54" width="13.10" height="4.38" fill="#ff5000"/><rect x="643.30" y="63.92" width="13.10" height="4.38" fill="#ff6000"/><rect x="643.30" y="67.30" width="13.10" height="4.38" fill="#ff7000"/><rect x="643.30" y="70.67" width="13.10" height="4.38" fill="#ff8000"/><rect x="643.30" y="74.05" width="13.10" height="4.38" fill="#ff8f00"/><rect x="643.30" y="77.43" width="13.10" height="4.38" fill="#ff9f00"/><rect x="643.30" y="80.81" width="13.10" height="4.38" fill="#ffaf00"/><rect x="643.30" y="84.19" width="13.10" height="4.38" fill="#ffbf00"/><rect x="643.30" y="87.57" width="13.10" height="4.38" fill="#ffcf00"/><rect x="643.30" y="90.95" width="13.10" height="4.38" fill="#ffdf00"/><rect x="643.30" y="94.33" width="13.10" height="4.38" fill="#ffef00"/><rect x="643.30" y="97.71" width="13.10" height="4.38" fill="#ffff00"/><rect x="643.30" y="101.09" width="13.10" height="4.38" fill="#efff10"/><rect x="643.30" y="104.47" width="13.10" height="4.38" fill="#dfff20"/><rect x="643.30" y="107.85" width="13.10" height="4.38" fill="#cfff30"/><rect x="643.30" y="111.23" width="13.10" height="4.38" fill="#bfff40"/><rect x="643.30" y="114.61" width="13.10" height="4.38" fill="#afff50"/><rect x="643.30" y="117.99" width="13.10" height="4.38" fill="#9fff60"/><rect x="643.30" y="121.37" width="13.10" height="4.38" fill="#8fff70"/><rect x="643.30" y="124.75" width="13.10" height="4.38" fill="#80ff80"/><rect x="643.30" y="128.13" width="13.10" height="4.38" fill="#70ff8f"/><rect x="643.30" y="131.51" width="13.10" height="4.38" fill="#60ff9f"/><rect x="643.30" y="134.89" width="13.10" height="4.38" fill="#50ffaf"/><rect x="643.30" y="138.27" width="13.10" height="4.38" fill="#40ffbf"/><rect x="643.30" y="141.65" width="13.10" height="4.38" fill="#30ffcf"/><rect x="643.30" y="145.03" width="13.10" height="4.38" fill="#20ffdf"/><rect x="643.30" y="148.41" width="13.10" height="4.38" fill="#10ffef"/><rect x="643.30" y="151.79" width="13.10" height="4.38" fill="#00ffff"/><rect x="643.30" y="155.17" width="13.10" height="4.38" fill="#00efff"/><rect x="643.30" y="158.55" width="13.10" height="4.38" fill="#00dfff"/><rect x="643.30" y="161.93" width="13.10" height="4.38" fill="#00cfff"/><rect x="643.30" y="165.31" width="13.10" height="4.38" fill="#00bfff"/><rect x="643.30" y="168.69" width="13.10" height="4.38" fill="#00afff"/><rect x="643.30" y="172.07" width="13.10" height="4.38" fill="#009fff"/><rect x="643.30" y="175.45" width="13.10" height="4.38" fill="#008fff"/><rect x="643.30" y="178.82" width="13.10" height="4.38" fill="#0080ff"/><rect x="643.30" y="182.20" width="13.10" height="4.38" fill="#0070ff"/><rect x="643.30" y="185.58" width="13.10" height="4.38" fill="#0060ff"/><rect x="643.30" y="188.96" width="13.10" height="4.38" fill="#0050ff"/><rect x="643.30" y="192.34" width="13.10" height="4.38" fill="#0040ff"/><rect x="643.30" y="195.72" width="13.10" height="4.38" fill="#0030ff"/><rect x="643.30" y="199.10" width="13.10" height="4.38" fill="#0020ff"/><rect x="643.30" y="202.48" width="13.10" height="4.38" fill="#0010ff"/><rect x="643.30" y="205.86" width="13.10" height="4.38" fill="#0000ff"/><rect x="643.30" y="209.24" width="13.10" height="4.38" fill="#0000ef"/><rect x="643.30" y="212.62" width="13.10" height="4.38" fill="#0000df"/><rect x="643.30" y="216.00" width="13.10" height="4.38" fill="#0000cf"/><rect x="643.30" y="219.38" width="13.10" height="4.38" fill="#0000bf"/><rect x="643.30" y="222.76" width="13.10" height="4.38" fill="#0000af"/><rect x="643.30" y="226.14" width="13.10" height="4.38" fill="#00009f"/><rect x="643.30" y="229.52" width="13.10" height="3.38" fill="#00008f"/></g>
<rect x="643.60" y="16.80" width="12.50" height="216.10" fill="none" stroke="#111" stroke-width="1"/>
<g stroke="#111" stroke-width="1"><line x1="643.30" y1="18.85" x2="645.60" y2="18.85"/><line x1="656.40" y1="18.85" x2="654.10" y2="18.85"/><line x1="643.30" y1="42.67" x2="645.60" y2="42.67"/><line x1="656.40" y1="42.67" x2="654.10" y2="42.67"/><line x1="643.30" y1="66.49" x2="645.60" y2="66.49"/><line x1="656.40" y1="66.49" x2="654.10" y2="66.49"/><line x1="643.30" y1="90.31" x2="645.60" y2="90.31"/><line x1="656.40" y1="90.31" x2="654.10" y2="90.31"/><line x1="643.30" y1="114.13" x2="645.60" y2="114.13"/><line x1="656.40" y1="114.13" x2="654.10" y2="114.13"/><line x1="643.30" y1="137.95" x2="645.60" y2="137.95"/><line x1="656.40" y1="137.95" x2="654.10" y2="137.95"/><line x1="643.30" y1="161.77" x2="645.60" y2="161.77"/><line x1="656.40" y1="161.77" x2="654.10" y2="161.77"/><line x1="643.30" y1="185.59" x2="645.60" y2="185.59"/><line x1="656.40" y1="185.59" x2="654.10" y2="185.59"/><line x1="643.30" y1="209.41" x2="645.60" y2="209.41"/><line x1="656.40" y1="209.41" x2="654.10" y2="209.41"/></g>
<g opacity="0.999"><text transform="translate(417.23,246.90) scale(0.945,1)" text-anchor="middle" class="tk">1000</text><text transform="translate(471.30,246.90) scale(0.945,1)" text-anchor="middle" class="tk">2000</text><text transform="translate(525.37,246.90) scale(0.945,1)" text-anchor="middle" class="tk">3000</text><text transform="translate(579.44,246.90) scale(0.945,1)" text-anchor="middle" class="tk">4000</text><text transform="translate(633.51,246.90) scale(0.945,1)" text-anchor="middle" class="tk">5000</text><text transform="translate(387.30,54.86) scale(0.945,1)" text-anchor="end" class="tk">–2</text><text transform="translate(387.30,92.26) scale(0.945,1)" text-anchor="end" class="tk">–4</text><text transform="translate(387.30,129.66) scale(0.945,1)" text-anchor="end" class="tk">–6</text><text transform="translate(387.30,167.06) scale(0.945,1)" text-anchor="end" class="tk">–8</text><text transform="translate(387.30,204.46) scale(0.945,1)" text-anchor="end" class="tk">–10</text><text transform="translate(511.30,258.60) scale(0.945,1)" text-anchor="middle" class="tk">y(m)</text><text transform="translate(364.20,125.00) rotate(-90) scale(0.945,1)" text-anchor="middle" class="tk">z(m)</text><text transform="translate(512.00,8.00) scale(1.000,1)" text-anchor="middle" class="tt">&lt;v&gt;</text><text transform="translate(355.40,12.00) scale(1.000,1)" text-anchor="start" class="lt">b</text><text transform="translate(657.30,23.55) scale(0.945,1)" text-anchor="start" class="tk">0.04</text><text transform="translate(657.30,47.37) scale(0.945,1)" text-anchor="start" class="tk">0.03</text><text transform="translate(657.30,71.19) scale(0.945,1)" text-anchor="start" class="tk">0.02</text><text transform="translate(657.30,95.01) scale(0.945,1)" text-anchor="start" class="tk">0.01</text><text transform="translate(657.30,118.83) scale(0.945,1)" text-anchor="start" class="tk">0</text><text transform="translate(657.30,142.65) scale(0.945,1)" text-anchor="start" class="tk">–0.01</text><text transform="translate(657.30,166.47) scale(0.945,1)" text-anchor="start" class="tk">–0.02</text><text transform="translate(657.30,190.29) scale(0.945,1)" text-anchor="start" class="tk">–0.03</text><text transform="translate(657.30,214.11) scale(0.945,1)" text-anchor="start" class="tk">–0.04</text></g>
</svg>
</body></html>
